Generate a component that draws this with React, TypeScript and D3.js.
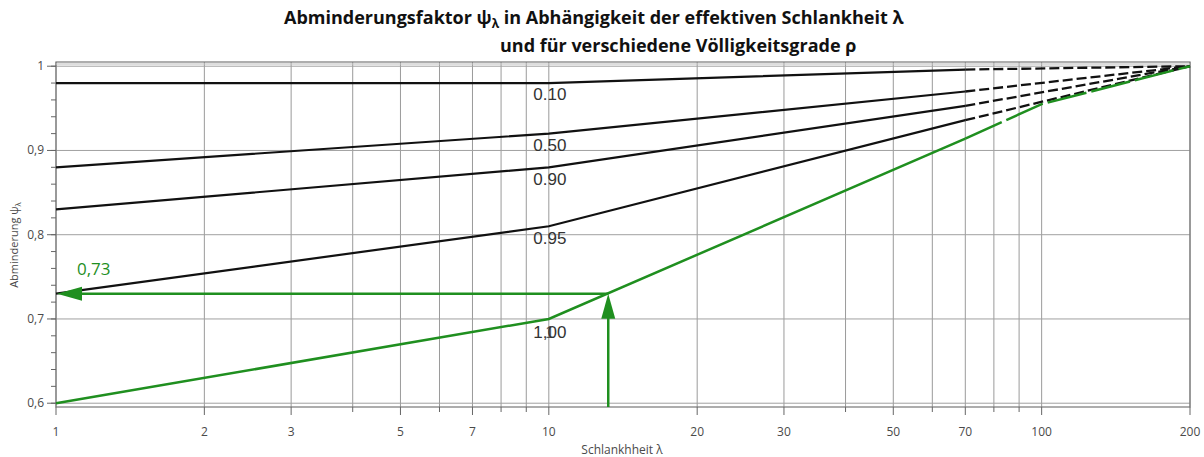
import React from 'react';
import * as d3 from 'd3';

// Stützstellen der Schlankheit und Abminderungswerte je Völligkeitsgrad
const lambdaKnots = [1, 10, 70, 200];
const rho010 = [0.98, 0.98, 0.996, 1.0];
const rho050 = [0.88, 0.92, 0.97, 1.0];
const rho090 = [0.83, 0.88, 0.953, 1.0];
const rho095 = [0.73, 0.81, 0.936, 1.0];

const lambdaKnotsFull = [1, 10, 70, 100, 200];
const rho100 = [0.6, 0.7, 0.914, 0.955, 1.0];

const blackSeries = [
  { label: '0.10', values: rho010, labelPsi: 0.983 },
  { label: '0.50', values: rho050, labelPsi: 0.9215 },
  { label: '0.90', values: rho090, labelPsi: 0.882 },
  { label: '0.95', values: rho095, labelPsi: 0.812 },
];

const xTickLabels = [1, 2, 3, 5, 7, 10, 20, 30, 50, 70, 100, 200];
const xGridValues = [1, 2, 3, 4, 5, 6, 7, 8, 9, 10, 20, 30, 40, 50, 60, 70, 80, 90, 100, 200];
const yTickLabels = [0.6, 0.7, 0.8, 0.9, 1.0];

const readLambda = 13.2;
const readPsi = 0.73;

const W = 1204;
const H = 457;
const margin = { top: 62, right: 14, bottom: 50, left: 56 };

const App: React.FC = () => {
  const x = d3.scaleLog().domain([1, 200]).range([margin.left, W - margin.right]);
  const y = d3.scaleLinear().domain([0.5955, 1.005]).range([H - margin.bottom, margin.top]);

  const line = d3
    .line<[number, number]>()
    .x((d) => x(d[0]))
    .y((d) => y(d[1]));

  const pairs = (xs: number[], ys: number[]) => xs.map((v, i) => [v, ys[i]] as [number, number]);

  const green = '#1f8f1f';
  const tickFont = "'Open Sans', sans-serif";
  const labelFont = "'Liberation Sans', Arial, sans-serif";
  const minorY = d3.range(0.6, 1.0001, 0.02);

  const px = x(readLambda);
  const py = y(readPsi);
  const bottom = H - margin.bottom;
  const left = margin.left;

  return (
    <svg width={W} height={H} style={{ position: 'absolute', left: 0, top: 0, background: '#fff' }}>
      {/* Titel */}
      <text x={284} y={24} fontFamily={tickFont} fontWeight="bold" fontSize={18} fill="#111">
        Abminderungsfaktor ψ<tspan fontSize={12} dy={4}>λ</tspan>
        <tspan dy={-4}> in Abhängigkeit der effektiven Schlankheit λ</tspan>
      </text>
      <text x={500} y={52} fontFamily={tickFont} fontWeight="bold" fontSize={18} fill="#111">
        und für verschiedene Völligkeitsgrade ρ
      </text>

      {/* Gitter */}
      {xGridValues.map((v) => (
        <line key={'gx' + v} x1={x(v)} x2={x(v)} y1={margin.top} y2={bottom} stroke="#9a9a9a" strokeWidth={1} />
      ))}
      {yTickLabels.map((v) => (
        <line key={'gy' + v} x1={left} x2={W - margin.right} y1={y(v)} y2={y(v)} stroke="#a0a0a0" strokeWidth={1} />
      ))}
      <rect x={left} y={margin.top} width={W - margin.right - left} height={bottom - margin.top} fill="none" stroke="#777" strokeWidth={1.2} />
      <line x1={left} x2={W - margin.right} y1={margin.top + 2} y2={margin.top + 2} stroke="#bbb" />

      {/* y-Achse */}
      {minorY.map((v, i) => (
        <line key={'my' + i} x1={left - 5} x2={left} y1={y(v)} y2={y(v)} stroke="#666" />
      ))}
      {yTickLabels.map((v) => (
        <g key={'ty' + v}>
          <line x1={left - 9} x2={left} y1={y(v)} y2={y(v)} stroke="#666" />
          <text x={left - 12} y={y(v) + 4} textAnchor="end" fontFamily={tickFont} fontSize={12} fill="#4a4a4a">
            {v === 1 ? '1' : d3.format('.1f')(v).replace('.', ',')}
          </text>
        </g>
      ))}
      <text transform={`translate(18,245) rotate(-90)`} textAnchor="middle" fontFamily={tickFont} fontSize={11} fill="#4a4a4a">
        Abminderung ψ<tspan fontSize={8} dy={3}>λ</tspan>
      </text>

      {/* x-Achse */}
      {xGridValues.map((v) => (
        <line
          key={'tx' + v}
          x1={x(v)}
          x2={x(v)}
          y1={bottom}
          y2={bottom + (xTickLabels.includes(v) ? 8 : 5)}
          stroke="#666"
        />
      ))}
      {xTickLabels.map((v) => (
        <text key={'lx' + v} x={x(v)} y={436} textAnchor="middle" fontFamily={tickFont} fontSize={12} fill="#4a4a4a">
          {v}
        </text>
      ))}
      <text x={622} y={454} textAnchor="middle" fontFamily={tickFont} fontSize={12} fill="#4a4a4a">
        Schlankhheit λ
      </text>

      {/* Kurven schwarz */}
      {blackSeries.map((s) => {
        const pts = pairs(lambdaKnots, s.values);
        return (
          <g key={s.label}>
            <path d={line(pts.slice(0, 3)) || ''} fill="none" stroke="#111" strokeWidth={2.2} />
            <path d={line(pts.slice(2)) || ''} fill="none" stroke="#111" strokeWidth={2.3} strokeDasharray="10,4" />
          </g>
        );
      })}

      {/* Kurve 1,00 grün */}
      <path d={line(pairs(lambdaKnotsFull, rho100).slice(0, 3)) || ''} fill="none" stroke={green} strokeWidth={2.5} />
      <path d={line(pairs(lambdaKnotsFull, rho100).slice(2)) || ''} fill="none" stroke={green} strokeWidth={2.5} strokeDasharray="40,5" />

      {/* Kurvenbeschriftungen */}
      {blackSeries.map((s) => (
        <text key={'l' + s.label} x={x(9.3)} y={y(s.labelPsi) + 19} fontFamily={labelFont} fontSize={17} fill="#333">
          {s.label}
        </text>
      ))}
      <text x={x(9.3)} y={y(0.7) + 19} fontFamily={labelFont} fontSize={17} fill="#333">
        1,00
      </text>
      <text x={x(9.3) + 12} y={y(0.7) + 19} fontFamily={labelFont} fontSize={17} fill="#333" opacity={0.8}>
        1
      </text>

      {/* Ablesepfeile */}
      <line x1={px} x2={px} y1={bottom} y2={py + 22} stroke={green} strokeWidth={2.5} />
      <polygon points={`${px},${py} ${px - 7},${py + 25} ${px + 7},${py + 25}`} fill={green} />
      <line x1={px} x2={left + 22} y1={py} y2={py} stroke={green} strokeWidth={2.5} />
      <polygon points={`${left + 1},${py} ${left + 26},${py - 7} ${left + 26},${py + 7}`} fill={green} />
      <text x={77} y={275} fontFamily={tickFont} fontSize={17} fill={green}>
        {d3.format('.2f')(readPsi).replace('.', ',')}
      </text>
    </svg>
  );
};

export default App;
